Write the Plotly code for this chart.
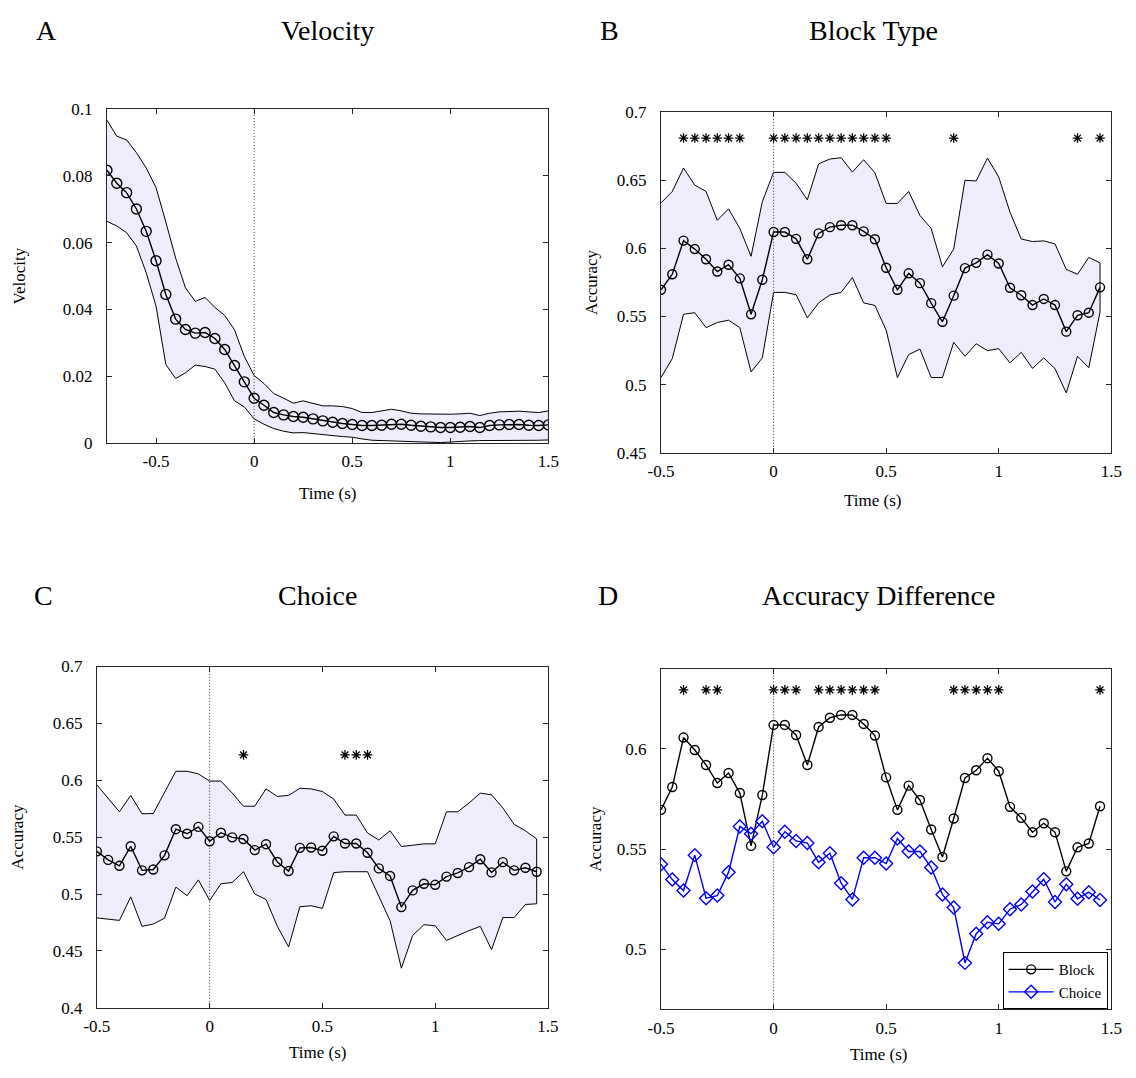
import plotly.graph_objects as go

# ---------------- data ----------------
# time grids (s)
t_vel = [-0.75, -0.70, -0.65, -0.60, -0.55, -0.50, -0.45, -0.40, -0.35, -0.30,
         -0.25, -0.20, -0.15, -0.10, -0.05, 0.00, 0.05, 0.10, 0.15, 0.20,
         0.25, 0.30, 0.35, 0.40, 0.45, 0.50, 0.55, 0.60, 0.65, 0.70,
         0.75, 0.80, 0.85, 0.90, 0.95, 1.00, 1.05, 1.10, 1.15, 1.20,
         1.25, 1.30, 1.35, 1.40, 1.45, 1.50]
t_acc = [-0.50, -0.45, -0.40, -0.35, -0.30, -0.25, -0.20, -0.15, -0.10, -0.05,
         0.00, 0.05, 0.10, 0.15, 0.20, 0.25, 0.30, 0.35, 0.40, 0.45,
         0.50, 0.55, 0.60, 0.65, 0.70, 0.75, 0.80, 0.85, 0.90, 0.95,
         1.00, 1.05, 1.10, 1.15, 1.20, 1.25, 1.30, 1.35, 1.40, 1.45]

# A: velocity
vel_mean = [0.0817, 0.0778, 0.0750, 0.0701, 0.0634, 0.0546, 0.0445, 0.0371, 0.0340, 0.0329,
            0.0331, 0.0313, 0.0280, 0.0232, 0.0183, 0.0134, 0.0113, 0.0091, 0.0084, 0.0079,
            0.0077, 0.0072, 0.0066, 0.0062, 0.0058, 0.0055, 0.0052, 0.0052, 0.0053, 0.0056,
            0.0056, 0.0053, 0.0050, 0.0048, 0.0046, 0.0046, 0.0047, 0.0049, 0.0046, 0.0052,
            0.0054, 0.0055, 0.0055, 0.0053, 0.0052, 0.0054]
vel_upper = [0.0967, 0.0919, 0.0908, 0.0870, 0.0824, 0.0765, 0.0662, 0.0554, 0.0465, 0.0424,
             0.0436, 0.0406, 0.0382, 0.0339, 0.0259, 0.0202, 0.0178, 0.0148, 0.0134, 0.0119,
             0.0126, 0.0119, 0.0111, 0.0111, 0.0109, 0.0103, 0.0091, 0.0091, 0.0096, 0.0101,
             0.0096, 0.0089, 0.0087, 0.0086, 0.0086, 0.0086, 0.0087, 0.0089, 0.0082, 0.0089,
             0.0093, 0.0095, 0.0095, 0.0093, 0.0091, 0.0096]
vel_lower = [0.0664, 0.0650, 0.0630, 0.0590, 0.0510, 0.0410, 0.0235, 0.0193, 0.0210, 0.0233,
             0.0229, 0.0221, 0.0180, 0.0126, 0.0108, 0.0072, 0.0056, 0.0043, 0.0035, 0.0030,
             0.0031, 0.0026, 0.0024, 0.0022, 0.0019, 0.0017, 0.0012, 0.0008, 0.0006, 0.0006,
             0.0005, 0.0005, 0.0003, 0.0002, 0.0001, 0.0001, 0.0004, 0.0006, 0.0007, 0.0007,
             0.0008, 0.0008, 0.0009, 0.0008, 0.0008, 0.0009]

# B: block type decoding accuracy
block_mean = [0.5696, 0.5810, 0.6057, 0.5995, 0.5920, 0.5830, 0.5880, 0.5780, 0.5516, 0.5770,
              0.6120, 0.6120, 0.6070, 0.5920, 0.6110, 0.6156, 0.6170, 0.6170, 0.6125, 0.6067,
              0.5858, 0.5696, 0.5817, 0.5745, 0.5598, 0.5461, 0.5653, 0.5855, 0.5894, 0.5954,
              0.5889, 0.5711, 0.5656, 0.5584, 0.5629, 0.5584, 0.5389, 0.5509, 0.5528, 0.5714]
block_upper = [0.6334, 0.6418, 0.6590, 0.6464, 0.6418, 0.6206, 0.6290, 0.6146, 0.5942, 0.6343,
               0.6558, 0.6558, 0.6478, 0.6356, 0.6620, 0.6656, 0.6666, 0.6560, 0.6651, 0.6555,
               0.6330, 0.6330, 0.6418, 0.6242, 0.6146, 0.5865, 0.5995, 0.6500, 0.6495, 0.6663,
               0.6524, 0.6266, 0.6069, 0.6050, 0.6055, 0.6033, 0.5846, 0.5810, 0.5934, 0.5894]
block_lower = [0.5052, 0.5191, 0.5516, 0.5528, 0.5418, 0.5456, 0.5473, 0.5418, 0.5093, 0.5196,
               0.5677, 0.5677, 0.5660, 0.5490, 0.5600, 0.5658, 0.5677, 0.5786, 0.5600, 0.5581,
               0.5400, 0.5052, 0.5220, 0.5261, 0.5052, 0.5052, 0.5310, 0.5208, 0.5300, 0.5249,
               0.5264, 0.5160, 0.5237, 0.5119, 0.5196, 0.5117, 0.4939, 0.5208, 0.5124, 0.5533]
block_sig_t = [-0.40, -0.35, -0.30, -0.25, -0.20, -0.15,
               0.00, 0.05, 0.10, 0.15, 0.20, 0.25, 0.30, 0.35, 0.40, 0.45, 0.50,
               0.80, 1.35, 1.45]
block_sig_level = 0.681

# C: choice decoding accuracy
choice_mean = [0.5375, 0.5300, 0.5248, 0.5420, 0.5208, 0.5216, 0.5340, 0.5570, 0.5530, 0.5590,
               0.5464, 0.5539, 0.5498, 0.5484, 0.5386, 0.5438, 0.5282, 0.5202, 0.5406, 0.5409,
               0.5380, 0.5507, 0.5444, 0.5444, 0.5363, 0.5225, 0.5159, 0.4885, 0.5032, 0.5090,
               0.5081, 0.5153, 0.5185, 0.5236, 0.5306, 0.5190, 0.5280, 0.5208, 0.5231, 0.5196]
choice_upper = [0.5959, 0.5838, 0.5723, 0.5867, 0.5705, 0.5708, 0.5892, 0.6079, 0.6079, 0.6056,
                0.5993, 0.5993, 0.5887, 0.5772, 0.5772, 0.5924, 0.5858, 0.5867, 0.5930, 0.5924,
                0.5901, 0.5835, 0.5694, 0.5694, 0.5536, 0.5475, 0.5556, 0.5418, 0.5429, 0.5441,
                0.5441, 0.5723, 0.5723, 0.5800, 0.5887, 0.5872, 0.5757, 0.5613, 0.5556, 0.5484]
choice_lower = [0.4790, 0.4779, 0.4768, 0.4975, 0.4716, 0.4736, 0.4788, 0.5061, 0.4986, 0.5124,
                0.4943, 0.5090, 0.5101, 0.5196, 0.5000, 0.4952, 0.4716, 0.4535, 0.4888, 0.4897,
                0.4874, 0.5188, 0.5196, 0.5196, 0.5196, 0.4980, 0.4765, 0.4348, 0.4635, 0.4730,
                0.4721, 0.4592, 0.4635, 0.4678, 0.4716, 0.4511, 0.4793, 0.4793, 0.4908, 0.4914]
choice_sig_t = [0.15, 0.60, 0.65, 0.70]
choice_sig_level = 0.6223

# D: accuracy difference (block vs choice)
diff_choice = [0.5424, 0.5348, 0.5293, 0.5470, 0.5255, 0.5268, 0.5385, 0.5613, 0.5577, 0.5639,
               0.5509, 0.5587, 0.5541, 0.5530, 0.5434, 0.5480, 0.5330, 0.5249, 0.5457, 0.5457,
               0.5428, 0.5553, 0.5488, 0.5488, 0.5408, 0.5273, 0.5208, 0.4932, 0.5078, 0.5135,
               0.5127, 0.5200, 0.5224, 0.5288, 0.5350, 0.5236, 0.5325, 0.5252, 0.5285, 0.5246]
diff_sig_t = [-0.40, -0.30, -0.25, 0.00, 0.05, 0.10, 0.20, 0.25, 0.30, 0.35, 0.40, 0.45,
              0.80, 0.85, 0.90, 0.95, 1.00, 1.45]
diff_sig_level = 0.6295

x_ticks = [-0.5, 0, 0.5, 1, 1.5]
x_ticktext = ["-0.5", "0", "0.5", "1", "1.5"]
vel_ticks = [0, 0.02, 0.04, 0.06, 0.08, 0.1]
vel_ticktext = ["0", "0.02", "0.04", "0.06", "0.08", "0.1"]
blk_ticks = [0.45, 0.5, 0.55, 0.6, 0.65, 0.7]
blk_ticktext = ["0.45", "0.5", "0.55", "0.6", "0.65", "0.7"]
cho_ticks = [0.4, 0.45, 0.5, 0.55, 0.6, 0.65, 0.7]
cho_ticktext = ["0.4", "0.45", "0.5", "0.55", "0.6", "0.65", "0.7"]
dif_ticks = [0.5, 0.55, 0.6]
dif_ticktext = ["0.5", "0.55", "0.6"]

# ---------------- styling ----------------
W, H = 1136, 1078
FONT = "Liberation Serif, Times New Roman, serif"
AXIS_COLOR = "#262626"
BAND_FILL = "rgb(237,237,252)"


def px_x(p):
    return p / W


def px_y(p):
    return 1 - p / H


fig = go.Figure()


def band(xs, up, lo, xa, ya):
    fig.add_trace(go.Scatter(
        x=list(xs) + list(xs)[::-1], y=list(up) + list(lo)[::-1],
        mode="lines", fill="toself", fillcolor=BAND_FILL,
        line=dict(color="black", width=1), hoverinfo="skip",
        showlegend=False, xaxis=xa, yaxis=ya))


def mean_line(xs, ys, xa, ya, color="black", symbol="circle-open",
              name=None, legend=False, size=10):
    fig.add_trace(go.Scatter(
        x=xs, y=ys, mode="lines+markers", name=name, showlegend=legend,
        line=dict(color=color, width=1.4),
        marker=dict(symbol=symbol, size=size, color=color,
                    line=dict(color=color, width=1.4)),
        xaxis=xa, yaxis=ya))


def stars(ts, level, xa, ya):
    fig.add_trace(go.Scatter(
        x=ts, y=[level] * len(ts), mode="markers", showlegend=False,
        marker=dict(symbol="asterisk-open", size=8, color="black",
                    line=dict(color="black", width=1.3)),
        xaxis=xa, yaxis=ya))


# A
band(t_vel, vel_upper, vel_lower, "x", "y")
mean_line(t_vel, vel_mean, "x", "y")
# B
band(t_acc, block_upper, block_lower, "x2", "y2")
mean_line(t_acc, block_mean, "x2", "y2", size=9)
stars(block_sig_t, block_sig_level, "x2", "y2")
# C
band(t_acc, choice_upper, choice_lower, "x3", "y3")
mean_line(t_acc, choice_mean, "x3", "y3", size=9)
stars(choice_sig_t, choice_sig_level, "x3", "y3")
# D
mean_line(t_acc, block_mean, "x4", "y4", name="Block", legend=True, size=9)
mean_line(t_acc, diff_choice, "x4", "y4", color="#0000FF",
          symbol="diamond-open", name="Choice", legend=True, size=10)
stars(diff_sig_t, diff_sig_level, "x4", "y4")

tick_font = dict(family=FONT, size=17, color="black")


def axis_style(dom, rng, tv, tt, anchor, title=None, standoff=0, is_y=False):
    d = dict(domain=dom, range=rng, tickvals=tv, ticktext=tt, anchor=anchor,
             showgrid=False, zeroline=False, showline=True, mirror="allticks",
             linecolor=AXIS_COLOR, linewidth=1, ticks="inside", ticklen=5,
             tickcolor=AXIS_COLOR, tickwidth=1, tickfont=tick_font,
             ticklabelstandoff=10 if is_y else 3)
    if title:
        d["title"] = dict(text=title, standoff=standoff,
                          font=dict(family=FONT, size=17, color="black"))
    return d


# panel extents in pixels: (left, right, top, bottom)
panels = {
    "A": (96, 547, 102, 441.7),
    "B": (662, 1122, 105, 451.7),
    "C": (85.7, 546.5, 669.3, 1016.7),
    "D": (662, 1122, 671.7, 1018.3),
}


def xdom(k):
    l, r, _, _ = panels[k]
    return [px_x(l), px_x(r)]


def ydom(k):
    _, _, t, b = panels[k]
    return [px_y(b), px_y(t)]


fig.update_layout(
    xaxis=axis_style(xdom("A"), [-0.75, 1.5], x_ticks, x_ticktext, "y"),
    yaxis=axis_style(ydom("A"), [0, 0.1], vel_ticks, vel_ticktext, "x",
                     "Velocity", 32, True),
    xaxis2=axis_style(xdom("B"), [-0.5, 1.5], x_ticks, x_ticktext, "y2"),
    yaxis2=axis_style(ydom("B"), [0.45, 0.7], blk_ticks, blk_ticktext, "x2",
                      "Accuracy", 14, True),
    xaxis3=axis_style(xdom("C"), [-0.5, 1.5], x_ticks, x_ticktext, "y3"),
    yaxis3=axis_style(ydom("C"), [0.4, 0.7], cho_ticks, cho_ticktext, "x3",
                      "Accuracy", 24, True),
    xaxis4=axis_style(xdom("D"), [-0.5, 1.5], x_ticks, x_ticktext, "y4"),
    yaxis4=axis_style(ydom("D"), [0.47, 0.64], dif_ticks, dif_ticktext, "x4",
                      "Accuracy", 10, True),
)

# dotted onset line at t = 0
for xa, ya in [("x", "y"), ("x2", "y2"), ("x3", "y3"), ("x4", "y4")]:
    fig.add_shape(type="line", xref=xa, yref=f"{ya} domain", x0=0, x1=0, y0=0, y1=1,
                  line=dict(color="#333333", width=1, dash="1px,2px"), layer="above")

annotations = []


def label(text, x, y, size):
    annotations.append(dict(text=text, x=px_x(x), y=px_y(y), xref="paper", yref="paper",
                            xanchor="center", yanchor="middle", showarrow=False,
                            font=dict(family=FONT, size=size, color="black")))


# panel letters and titles
label("A", 34, 22, 28)
label("Velocity", 321, 22, 28)
label("B", 609, 22, 28)
label("Block Type", 879, 22, 28)
label("C", 31, 597, 28)
label("Choice", 311, 597, 28)
label("D", 608, 597, 28)
label("Accuracy Difference", 884, 597, 28)

# x-axis titles
label("Time (s)", 321, 493, 17)
label("Time (s)", 878, 500, 17)
label("Time (s)", 311, 1062, 17)
label("Time (s)", 884, 1064, 17)

fig.update_layout(
    annotations=annotations,
    width=W, height=H,
    margin=dict(l=0, r=0, t=0, b=0),
    paper_bgcolor="white", plot_bgcolor="white",
    showlegend=True,
    legend=dict(x=px_x(1011), y=px_y(960), xanchor="left", yanchor="top",
                bgcolor="white", bordercolor="black", borderwidth=1,
                font=dict(family=FONT, size=15, color="black"),
                tracegroupgap=0, itemwidth=45),
)

fig.write_html("out.html")
